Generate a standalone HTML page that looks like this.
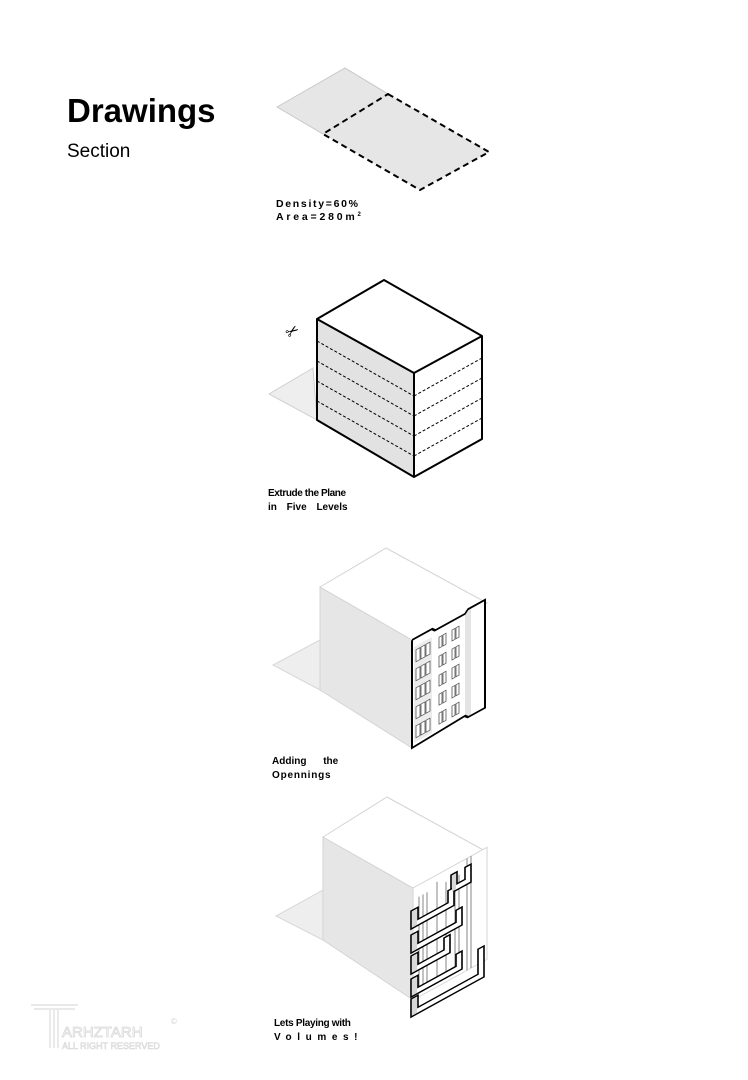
<!DOCTYPE html>
<html><head><meta charset="utf-8"><style>
html,body{margin:0;padding:0;background:#fff;}
svg{display:block;}
text{font-family:"Liberation Sans",Arial,sans-serif;}
</style></head><body>
<svg width="748" height="1080" viewBox="0 0 748 1080" xmlns="http://www.w3.org/2000/svg">
<rect width="748" height="1080" fill="#fff"/>
<text x="67" y="122" font-size="33" font-weight="bold" fill="#000">Drawings</text>
<text x="67" y="157" font-size="19" fill="#000">Section</text>

<!-- 1: parcel -->
<polygon points="277,107 345,68 388,94 323,134" fill="#e6e6e6" stroke="#c8c8c8" stroke-width="1"/>
<polygon points="388,94 489,152 420,190 323,134" fill="#e6e6e6" stroke="#000" stroke-width="2" stroke-dasharray="6,4"/>
<text x="276" y="207" font-size="10.5" font-weight="bold" textLength="82" lengthAdjust="spacing">Density=60%</text>
<text x="276" y="220" font-size="10.5" font-weight="bold" letter-spacing="2.8">Area=280m<tspan font-size="6" dy="-4">2</tspan></text>

<!-- 2: extruded box -->
<polygon points="313,368 269,394 317,420" fill="#eeeeee" stroke="#d0d0d0"/>
<polygon points="317,319 414,373 414,477 317,420" fill="#e2e2e2"/>
<polygon points="414,373 482,336 482,439 414,477" fill="#fff"/>
<polygon points="317,319 384,280 482,336 414,373" fill="#fff"/>
<g stroke="#000" stroke-width="1" stroke-dasharray="3,2" fill="none">
<line x1="317" y1="341" x2="414" y2="396"/><line x1="317" y1="361" x2="414" y2="416"/>
<line x1="317" y1="381" x2="414" y2="436"/><line x1="317" y1="401" x2="414" y2="456"/>
<line x1="414" y1="396" x2="482" y2="358"/><line x1="414" y1="416" x2="482" y2="378"/>
<line x1="414" y1="436" x2="482" y2="398"/><line x1="414" y1="456" x2="482" y2="418"/>
</g>
<polygon points="317,319 384,280 482,336 482,439 414,477 317,420" fill="none" stroke="#000" stroke-width="2" stroke-linejoin="round"/>
<line x1="317" y1="319" x2="414" y2="373" stroke="#000" stroke-width="2"/>
<line x1="414" y1="373" x2="482" y2="336" stroke="#000" stroke-width="2"/>
<line x1="414" y1="373" x2="414" y2="477" stroke="#000" stroke-width="2"/>
<text x="286" y="337" font-size="16" transform="rotate(-35 292 332)">✂</text>
<text x="268" y="496" font-size="10" font-weight="bold" letter-spacing="-0.4">Extrude the Plane</text>
<text x="268" y="510" font-size="10" font-weight="bold" word-spacing="7">in Five Levels</text>

<!-- 3: openings -->
<polygon points="320,640 273,665 320,690" fill="#eeeeee" stroke="#d8d8d8"/>
<polygon points="320,587 412,640 412,748 320,690" fill="#e6e6e6" stroke="#d4d4d4"/>
<polygon points="320,587 386,548 487,603 412,640" fill="#fff" stroke="#d4d4d4"/>
<g transform="matrix(1,-0.55,0,1,412,0)">
<rect x="0" y="640" width="73" height="108" fill="#fff"/>
<rect x="2" y="648" width="18" height="96" fill="#ececec"/>
<g stroke="#555" stroke-width="0.8" fill="#fff">
<rect x="4" y="652" width="4" height="12"/><rect x="9" y="652" width="4" height="12"/><rect x="14" y="652" width="4" height="12"/>
<rect x="4" y="671" width="4" height="12"/><rect x="9" y="671" width="4" height="12"/><rect x="14" y="671" width="4" height="12"/>
<rect x="4" y="690" width="4" height="12"/><rect x="9" y="690" width="4" height="12"/><rect x="14" y="690" width="4" height="12"/>
<rect x="4" y="709" width="4" height="12"/><rect x="9" y="709" width="4" height="12"/><rect x="14" y="709" width="4" height="12"/>
<rect x="4" y="728" width="4" height="12"/><rect x="9" y="728" width="4" height="12"/><rect x="14" y="728" width="4" height="12"/>
<rect x="27" y="652" width="3" height="11"/><rect x="31" y="652" width="3" height="11"/><rect x="40" y="652" width="3" height="11"/><rect x="44" y="652" width="3" height="11"/>
<rect x="27" y="671" width="3" height="11"/><rect x="31" y="671" width="3" height="11"/><rect x="40" y="671" width="3" height="11"/><rect x="44" y="671" width="3" height="11"/>
<rect x="27" y="690" width="3" height="11"/><rect x="31" y="690" width="3" height="11"/><rect x="40" y="690" width="3" height="11"/><rect x="44" y="690" width="3" height="11"/>
<rect x="27" y="709" width="3" height="11"/><rect x="31" y="709" width="3" height="11"/><rect x="40" y="709" width="3" height="11"/><rect x="44" y="709" width="3" height="11"/>
<rect x="27" y="728" width="3" height="11"/><rect x="31" y="728" width="3" height="11"/><rect x="40" y="728" width="3" height="11"/><rect x="44" y="728" width="3" height="11"/>
</g>
<rect x="53" y="640" width="6" height="108" fill="#e4e4e4"/>
<polyline points="0,640 20,640 23,643 53,643 56,640 73,640 73,748 56,748 53,745 0,748 0,640" fill="none" stroke="#000" stroke-width="2"/>
</g>
<text x="272" y="764" font-size="10" font-weight="bold" word-spacing="14">Adding the</text>
<text x="272" y="778" font-size="10" font-weight="bold" letter-spacing="0.8">Opennings</text>

<!-- 4: volumes -->
<polygon points="323,890 276,916 323,940" fill="#eeeeee" stroke="#d8d8d8"/>
<polygon points="323,837 413,888 413,1000 323,940" fill="#e6e6e6" stroke="#d4d4d4"/>
<polygon points="323,837 387,797 487,852 413,888" fill="#fff" stroke="#d4d4d4"/>
<g transform="matrix(1,-0.55,0,1,413,0)">
<rect x="0" y="888" width="74" height="112" fill="#fff" stroke="#d4d4d4"/>
<g stroke="#666" stroke-width="0.8" fill="none">
<line x1="6" y1="900" x2="6" y2="995"/><line x1="10" y1="900" x2="10" y2="995"/><line x1="14" y1="900" x2="14" y2="995"/>
<line x1="24" y1="895" x2="24" y2="995"/><line x1="33" y1="900" x2="33" y2="995"/><line x1="42" y1="900" x2="42" y2="995"/><line x1="46" y1="900" x2="46" y2="995"/>
<line x1="54" y1="888" x2="54" y2="1000"/><line x1="58" y1="888" x2="58" y2="1000"/>
</g>
<g fill="#fff" stroke="#000" stroke-width="1.6">
<path d="M38,896 h6 v12 h8 v-12 h6 v18 h-20 z"/>
<path d="M-2,910 h7 v12 h30 v-12 h6 v18 h-43 z"/>
<path d="M-2,934 h7 v12 h38 v-12 h6 v18 h-51 z"/>
<path d="M-2,955 h7 v12 h26 v-12 h6 v18 h-39 z"/>
<path d="M-2,978 h7 v12 h38 v-12 h6 v18 h-51 z"/>
<path d="M-2,998 h7 v12 h60 v-25 h6 v31 h-73 z"/>
</g>
<g fill="#d8d8d8" stroke="none">
<rect x="-1" y="911" width="5" height="16"/><rect x="-1" y="935" width="5" height="16"/><rect x="-1" y="956" width="5" height="16"/><rect x="-1" y="979" width="5" height="16"/><rect x="-1" y="999" width="5" height="16"/><rect x="39" y="897" width="4" height="16"/>
</g>
</g>
<text x="274" y="1026" font-size="10" font-weight="bold" letter-spacing="-0.3">Lets Playing with</text>
<text x="274" y="1040" font-size="10" font-weight="bold" letter-spacing="5.6">Volumes!</text>

<!-- logo -->
<g fill="none" stroke="#e2e2e2" stroke-width="1.5">
<line x1="31" y1="1005" x2="78" y2="1005"/><line x1="34" y1="1009" x2="75" y2="1009"/>
<line x1="50" y1="1010" x2="50" y2="1048"/><line x1="54" y1="1010" x2="54" y2="1048"/><line x1="58" y1="1010" x2="58" y2="1048"/>
</g>
<text x="62" y="1037" font-size="15" fill="#fff" stroke="#d8d8d8" stroke-width="0.8">ARHZTARH</text>
<text x="62" y="1049" font-size="9" fill="#fff" stroke="#d8d8d8" stroke-width="0.6">ALL RIGHT RESERVED</text>
<text x="171" y="1024" font-size="8" fill="#d0d0d0">©</text>
</svg>
</body></html>
